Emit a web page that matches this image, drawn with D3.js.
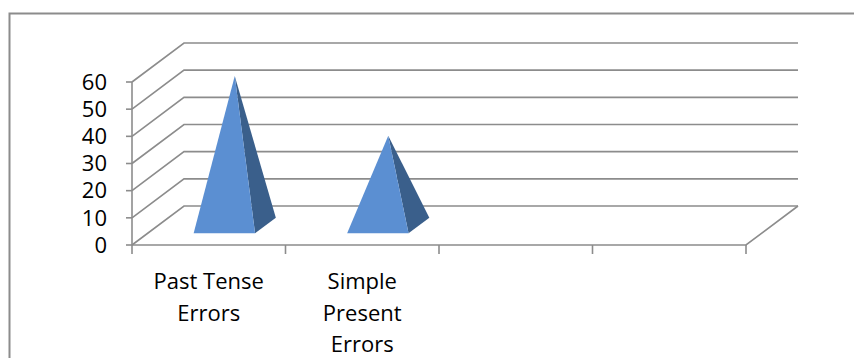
<!DOCTYPE html>
<html>
<head>
<meta charset="utf-8">
<script src="https://cdn.jsdelivr.net/npm/d3@7"></script>
<style>
  html, body { margin: 0; padding: 0; background: #fff; }
  svg { display: block; }
  text { font-family: "Open Sans", "Noto Sans", sans-serif; fill: #000; }
</style>
</head>
<body>
<svg id="chart" width="854" height="358"></svg>
<script>
// Chart data
const categories = ["Past Tense Errors", "Simple Present Errors", "", ""];
const values = [55, 33, null, null];
const yTicks = [0, 10, 20, 30, 40, 50, 60];

const W = 854, H = 358;
const svg = d3.select("#chart");

// Frame
svg.append("rect")
  .attr("x", 9.5).attr("y", 13.5)
  .attr("width", W).attr("height", H)
  .attr("fill", "none").attr("stroke", "#8c8c8c").attr("stroke-width", 2);

// Plot geometry (oblique 3D projection)
const x0 = 132, x1 = 746;
const yBase = 245, yTop = 82;
const depthDX = 52, depthDY = -39;

const x = d3.scaleBand().domain(d3.range(categories.length)).range([x0, x1]).paddingInner(0).paddingOuter(0);
const y = d3.scaleLinear().domain([0, 60]).range([yBase, yTop]);
const depthWorld = x.bandwidth();                 // depth of the floor in world units
const proj = (px, v, z) => [px + z * depthDX / depthWorld, y(v) + z * depthDY / depthWorld];

const gridColor = "#8c8c8c";
const grid = svg.append("g").attr("stroke", gridColor).attr("stroke-width", 1.6).attr("fill", "none");

// Back wall lines and side wall diagonals
yTicks.forEach(t => {
  const a = proj(x0, t, 0), b = proj(x0, t, depthWorld), c = proj(x1, t, depthWorld);
  grid.append("path").attr("d", d3.line()([a, b, c]));
});
// Floor: front edge and right diagonal
{
  const a = proj(x0, 0, 0), b = proj(x1, 0, 0), c = proj(x1, 0, depthWorld);
  grid.append("path").attr("d", d3.line()([a, b, c]));
}

// Value axis (front left edge)
grid.append("line").attr("x1", x0).attr("x2", x0).attr("y1", y(0)).attr("y2", y(60));
const yAxis = svg.append("g");
yTicks.forEach(t => {
  yAxis.append("line").attr("x1", x0 - 6).attr("x2", x0).attr("y1", y(t)).attr("y2", y(t))
    .attr("stroke", gridColor).attr("stroke-width", 1.6);
  yAxis.append("text").attr("x", 107).attr("y", y(t)).attr("dy", "0.35em")
    .attr("text-anchor", "end").attr("font-size", 22).text(t);
});

// Category ticks
const catEdges = d3.range(categories.length + 1).map(i => x0 + i * x.bandwidth());
catEdges.forEach(cx => {
  svg.append("line").attr("x1", cx).attr("x2", cx).attr("y1", yBase).attr("y2", yBase + 9)
    .attr("stroke", gridColor).attr("stroke-width", 1.6);
});

// Category labels with word wrap
const maxLabelWidth = 125;
categories.forEach((name, i) => {
  if (!name) return;
  const cx = x(i) + x.bandwidth() / 2;
  const t = svg.append("text").attr("x", cx).attr("y", 289).attr("text-anchor", "middle").attr("font-size", 22);
  const words = name.split(" ");
  let line = [], lineNo = 0;
  let tspan = t.append("tspan").attr("x", cx).attr("dy", 0);
  words.forEach(w => {
    line.push(w);
    tspan.text(line.join(" "));
    if (tspan.node().getComputedTextLength() > maxLabelWidth && line.length > 1) {
      line.pop();
      tspan.text(line.join(" "));
      line = [w];
      lineNo++;
      tspan = t.append("tspan").attr("x", cx).attr("dy", 31.5).text(w);
    }
  });
});

// Pyramids
const half = x.bandwidth() * 0.2;       // half of base side
const zc = depthWorld / 2;              // pyramid centred in depth
const pyr = svg.append("g");
values.forEach((v, i) => {
  if (v == null) return;
  const cx = x(i) + x.bandwidth() / 2;
  const fl = proj(cx - half, 0, zc - half);
  const fr = proj(cx + half, 0, zc - half);
  const br = proj(cx + half, 0, zc + half);
  const apex = proj(cx, v, zc);
  pyr.append("path").attr("d", d3.line()([fr, br, apex]) + "Z").attr("fill", "#3a5f8b");
  pyr.append("path").attr("d", d3.line()([fl, fr, apex]) + "Z").attr("fill", "#5b8fd2");
});
</script>
</body>
</html>
